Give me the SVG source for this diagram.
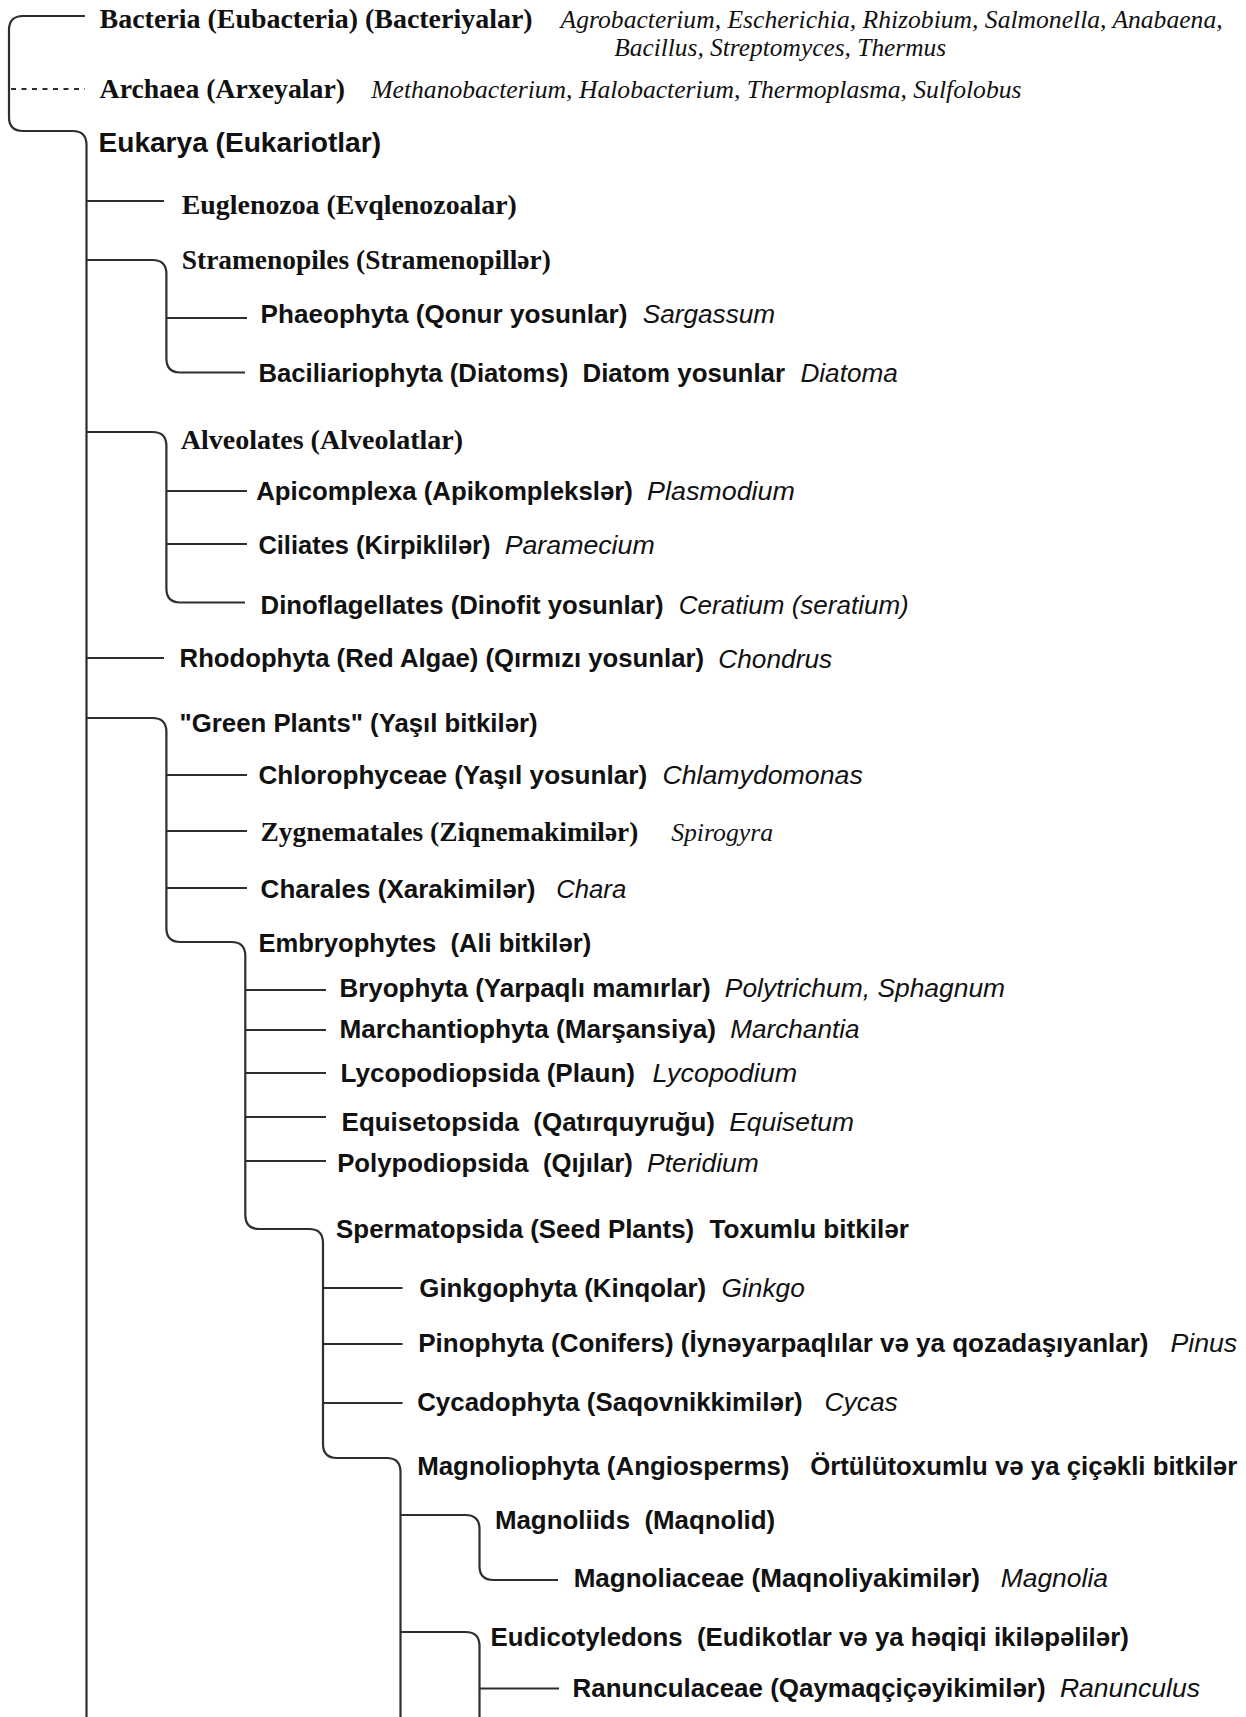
<svg xmlns="http://www.w3.org/2000/svg" width="1246" height="1717" viewBox="0 0 1246 1717">
<style>
.tb{font-family:"Liberation Serif","Times New Roman",serif;font-weight:bold;font-size:28px;fill:#111}
.ti{font-family:"Liberation Serif","Times New Roman",serif;font-style:italic;font-size:26px;fill:#111}
.ab{font-family:"Liberation Sans",Arial,sans-serif;font-weight:bold;font-size:26px;fill:#111}
.ai{font-family:"Liberation Sans",Arial,sans-serif;font-style:italic;font-size:26px;fill:#111}
.ln{fill:none;stroke:#2e2e2e;stroke-width:2.2}
.dot{fill:none;stroke:#2e2e2e;stroke-width:2;stroke-dasharray:5 5.5}
</style>
<rect x="0" y="0" width="1246" height="1717" fill="#fff"/>
<g id="connectors">
<path class="ln" d="M85,16 H23 Q9,16 9,30 V117 Q9,131 23,131 H72.5 Q86.5,131 86.5,145 V1717"/>
<path class="dot" d="M11,89 H85"/>
<path class="ln" d="M86.5,201 H164"/>
<path class="ln" d="M86.5,260 H152.4 Q166.4,260 166.4,274 V358.5 Q166.4,372.5 180.4,372.5 H245"/>
<path class="ln" d="M166.4,318 H247"/>
<path class="ln" d="M86.5,432 H152.4 Q166.4,432 166.4,446 V588.5 Q166.4,602.5 180.4,602.5 H245"/>
<path class="ln" d="M166.4,491 H247"/>
<path class="ln" d="M166.4,544 H247"/>
<path class="ln" d="M86.5,658 H164"/>
<path class="ln" d="M86.5,718 H152.4 Q166.4,718 166.4,732 V928 Q166.4,942 180.4,942 H231.3 Q245.3,942 245.3,956 V1215 Q245.3,1229 259.3,1229 H309 Q323,1229 323,1243 V1444 Q323,1458 337,1458 H386.5 Q400.5,1458 400.5,1472 V1717"/>
<path class="ln" d="M166.4,775 H247"/>
<path class="ln" d="M166.4,831 H247"/>
<path class="ln" d="M166.4,888 H247"/>
<path class="ln" d="M245.3,990 H326"/>
<path class="ln" d="M245.3,1030 H326"/>
<path class="ln" d="M245.3,1073 H326"/>
<path class="ln" d="M245.3,1117 H326"/>
<path class="ln" d="M245.3,1161 H326"/>
<path class="ln" d="M323,1288 H402.5"/>
<path class="ln" d="M323,1344 H402.5"/>
<path class="ln" d="M323,1403 H402.5"/>
<path class="ln" d="M400.5,1515 H465.5 Q479.5,1515 479.5,1529 V1566 Q479.5,1580 493.5,1580 H558"/>
<path class="ln" d="M400.5,1632 H465.5 Q479.5,1632 479.5,1646 V1717"/>
<path class="ln" d="M479.5,1688.5 H559"/>
</g>
<g id="bacteria">
<text class="tb" x="99.6" y="28" textLength="433" lengthAdjust="spacingAndGlyphs">Bacteria (Eubacteria) (Bacteriyalar)</text>
<text class="ti" x="560.6" y="28" textLength="662" lengthAdjust="spacingAndGlyphs">Agrobacterium, Escherichia, Rhizobium, Salmonella, Anabaena,</text>
<text class="ti" x="614.2" y="56" textLength="332" lengthAdjust="spacingAndGlyphs">Bacillus, Streptomyces, Thermus</text>
</g>
<g id="archaea">
<text class="tb" x="99.6" y="98" textLength="245.4" lengthAdjust="spacingAndGlyphs">Archaea (Arxeyalar)</text>
<text class="ti" x="371.2" y="98" textLength="650.3" lengthAdjust="spacingAndGlyphs">Methanobacterium, Halobacterium, Thermoplasma, Sulfolobus</text>
</g>
<g id="eukarya">
<text class="ab" style="font-size:28px" x="98.5" y="152" textLength="282.5" lengthAdjust="spacingAndGlyphs">Eukarya (Eukariotlar)</text>
</g>
<g id="euglenozoa">
<text class="tb" x="181.8" y="214" textLength="335" lengthAdjust="spacingAndGlyphs">Euglenozoa (Evqlenozoalar)</text>
</g>
<g id="stramenopiles">
<text class="tb" x="181.8" y="269" textLength="369" lengthAdjust="spacingAndGlyphs">Stramenopiles (Stramenopillər)</text>
</g>
<g id="phaeophyta">
<text class="ab" x="260.6" y="322.5" textLength="366.8" lengthAdjust="spacingAndGlyphs">Phaeophyta (Qonur yosunlar)</text>
<text class="ai" x="642.7" y="322.5" textLength="132.5" lengthAdjust="spacingAndGlyphs">Sargassum</text>
</g>
<g id="baciliariophyta">
<text class="ab" x="258.4" y="381.5" textLength="309.9" lengthAdjust="spacingAndGlyphs">Baciliariophyta (Diatoms)</text>
<text class="ab" x="582.5" y="381.5" textLength="202.5" lengthAdjust="spacingAndGlyphs">Diatom yosunlar</text>
<text class="ai" x="800.4" y="381.5" textLength="97.4" lengthAdjust="spacingAndGlyphs">Diatoma</text>
</g>
<g id="alveolates">
<text class="tb" x="180.7" y="448.5" textLength="282.4" lengthAdjust="spacingAndGlyphs">Alveolates (Alveolatlar)</text>
</g>
<g id="apicomplexa">
<text class="ab" x="256.2" y="500" textLength="376.7" lengthAdjust="spacingAndGlyphs">Apicomplexa (Apikomplekslər)</text>
<text class="ai" x="647.1" y="500" textLength="147.8" lengthAdjust="spacingAndGlyphs">Plasmodium</text>
</g>
<g id="ciliates">
<text class="ab" x="258.4" y="553.5" textLength="232.1" lengthAdjust="spacingAndGlyphs">Ciliates (Kirpiklilər)</text>
<text class="ai" x="504.7" y="553.5" textLength="150" lengthAdjust="spacingAndGlyphs">Paramecium</text>
</g>
<g id="dinoflagellates">
<text class="ab" x="260.6" y="614" textLength="402.9" lengthAdjust="spacingAndGlyphs">Dinoflagellates (Dinofit yosunlar)</text>
<text class="ai" x="678.8" y="614" textLength="230" lengthAdjust="spacingAndGlyphs">Ceratium (seratium)</text>
</g>
<g id="rhodophyta">
<text class="ab" x="179.6" y="666.5" textLength="524.4" lengthAdjust="spacingAndGlyphs">Rhodophyta (Red Algae) (Qırmızı yosunlar)</text>
<text class="ai" x="718.3" y="668" textLength="113.8" lengthAdjust="spacingAndGlyphs">Chondrus</text>
</g>
<g id="green-plants">
<text class="ab" x="179.6" y="732" textLength="358" lengthAdjust="spacingAndGlyphs">"Green Plants" (Yaşıl bitkilər)</text>
</g>
<g id="chlorophyceae">
<text class="ab" x="258.4" y="783.5" textLength="388.7" lengthAdjust="spacingAndGlyphs">Chlorophyceae (Yaşıl yosunlar)</text>
<text class="ai" x="662.4" y="783.5" textLength="200.4" lengthAdjust="spacingAndGlyphs">Chlamydomonas</text>
</g>
<g id="zygnematales">
<text class="tb" x="260.6" y="840.5" textLength="377.7" lengthAdjust="spacingAndGlyphs">Zygnematales (Ziqnemakimilər)</text>
<text class="ti" x="671.2" y="840.5" textLength="101.8" lengthAdjust="spacingAndGlyphs">Spirogyra</text>
</g>
<g id="charales">
<text class="ab" x="260.6" y="897.5" textLength="274.8" lengthAdjust="spacingAndGlyphs">Charales (Xarakimilər)</text>
<text class="ai" x="556.2" y="897.5" textLength="70" lengthAdjust="spacingAndGlyphs">Chara</text>
</g>
<g id="embryophytes">
<text class="ab" x="258.4" y="952" textLength="332.8" lengthAdjust="spacingAndGlyphs" xml:space="preserve">Embryophytes  (Ali bitkilər)</text>
</g>
<g id="bryophyta">
<text class="ab" x="339.4" y="997" textLength="371.2" lengthAdjust="spacingAndGlyphs">Bryophyta (Yarpaqlı mamırlar)</text>
<text class="ai" x="724.8" y="997" textLength="280.3" lengthAdjust="spacingAndGlyphs">Polytrichum, Sphagnum</text>
</g>
<g id="marchantiophyta">
<text class="ab" x="339.4" y="1037.5" textLength="376.6" lengthAdjust="spacingAndGlyphs">Marchantiophyta (Marşansiya)</text>
<text class="ai" x="730.3" y="1037.5" textLength="129.2" lengthAdjust="spacingAndGlyphs">Marchantia</text>
</g>
<g id="lycopodiopsida">
<text class="ab" x="340.5" y="1082" textLength="294.5" lengthAdjust="spacingAndGlyphs">Lycopodiopsida (Plaun)</text>
<text class="ai" x="652.6" y="1082" textLength="144.5" lengthAdjust="spacingAndGlyphs">Lycopodium</text>
</g>
<g id="equisetopsida">
<text class="ab" x="341.6" y="1130.5" textLength="373.4" lengthAdjust="spacingAndGlyphs" xml:space="preserve">Equisetopsida  (Qatırquyruğu)</text>
<text class="ai" x="729.2" y="1130.5" textLength="124.8" lengthAdjust="spacingAndGlyphs">Equisetum</text>
</g>
<g id="polypodiopsida">
<text class="ab" x="337.2" y="1172" textLength="295.7" lengthAdjust="spacingAndGlyphs" xml:space="preserve">Polypodiopsida  (Qıjılar)</text>
<text class="ai" x="647.1" y="1172" textLength="111.7" lengthAdjust="spacingAndGlyphs">Pteridium</text>
</g>
<g id="spermatopsida">
<text class="ab" x="336.1" y="1238" textLength="358.1" lengthAdjust="spacingAndGlyphs">Spermatopsida (Seed Plants)</text>
<text class="ab" x="709.5" y="1238" textLength="199.3" lengthAdjust="spacingAndGlyphs">Toxumlu bitkilər</text>
</g>
<g id="ginkgophyta">
<text class="ab" x="419.3" y="1297" textLength="286.9" lengthAdjust="spacingAndGlyphs">Ginkgophyta (Kinqolar)</text>
<text class="ai" x="721.5" y="1297" textLength="83.3" lengthAdjust="spacingAndGlyphs">Ginkgo</text>
</g>
<g id="pinophyta">
<text class="ab" x="418.3" y="1352" textLength="730.2" lengthAdjust="spacingAndGlyphs">Pinophyta (Conifers) (İynəyarpaqlılar və ya qozadaşıyanlar)</text>
<text class="ai" x="1170.4" y="1352" textLength="66.8" lengthAdjust="spacingAndGlyphs">Pinus</text>
</g>
<g id="cycadophyta">
<text class="ab" x="417.2" y="1411" textLength="385.4" lengthAdjust="spacingAndGlyphs">Cycadophyta (Saqovnikkimilər)</text>
<text class="ai" x="824.5" y="1411" textLength="73.3" lengthAdjust="spacingAndGlyphs">Cycas</text>
</g>
<g id="magnoliophyta">
<text class="ab" x="417.2" y="1474.5" textLength="372.2" lengthAdjust="spacingAndGlyphs">Magnoliophyta (Angiosperms)</text>
<text class="ab" x="810.2" y="1474.5" textLength="427" lengthAdjust="spacingAndGlyphs">Örtülütoxumlu və ya çiçəkli bitkilər</text>
</g>
<g id="magnoliids">
<text class="ab" x="494.9" y="1529" textLength="280.3" lengthAdjust="spacingAndGlyphs" xml:space="preserve">Magnoliids  (Maqnolid)</text>
</g>
<g id="magnoliaceae">
<text class="ab" x="573.7" y="1587" textLength="406.3" lengthAdjust="spacingAndGlyphs">Magnoliaceae (Maqnoliyakimilər)</text>
<text class="ai" x="1000.7" y="1587" textLength="107.3" lengthAdjust="spacingAndGlyphs">Magnolia</text>
</g>
<g id="eudicotyledons">
<text class="ab" x="490.5" y="1646" textLength="638.3" lengthAdjust="spacingAndGlyphs" xml:space="preserve">Eudicotyledons  (Eudikotlar və ya həqiqi ikiləpəlilər)</text>
</g>
<g id="ranunculaceae">
<text class="ab" x="572.6" y="1696.5" textLength="473" lengthAdjust="spacingAndGlyphs">Ranunculaceae (Qaymaqçiçəyikimilər)</text>
<text class="ai" x="1059.9" y="1696.5" textLength="140.1" lengthAdjust="spacingAndGlyphs">Ranunculus</text>
</g>
</svg>
